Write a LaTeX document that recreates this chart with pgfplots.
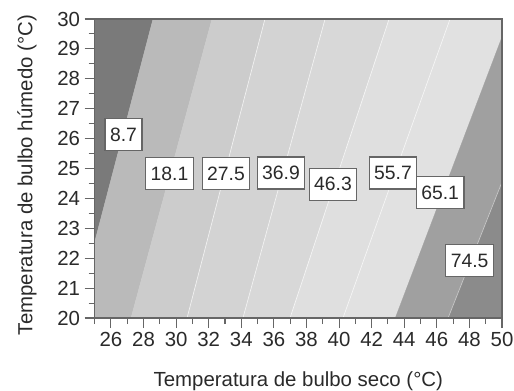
\documentclass[border=0pt]{standalone}
\usepackage{fontspec}
\setmainfont{Liberation Sans}
\usepackage{pgfplots}
\pgfplotsset{compat=1.18}
\definecolor{c0}{HTML}{7A7A7A}
\definecolor{c1}{HTML}{BABABA}
\definecolor{c2}{HTML}{CCCCCC}
\definecolor{c3}{HTML}{D3D3D3}
\definecolor{c4}{HTML}{D8D8D8}
\definecolor{c5}{HTML}{DFDFDF}
\definecolor{c6}{HTML}{E1E1E1}
\definecolor{c7}{HTML}{A0A0A0}
\definecolor{c8}{HTML}{8B8B8B}
\definecolor{frame}{HTML}{666666}
\definecolor{txt}{HTML}{2A2A2A}
\begin{document}
\begin{tikzpicture}
\begin{axis}[
  at={(0,0)}, anchor=south west,
  scale only axis, width=305.5pt, height=224.25pt,
  xmin=25, xmax=50, ymin=20, ymax=30,
  xtick={26,28,...,50}, minor xtick={25,27,...,49},
  ytick={20,21,...,30}, minor ytick={20.5,21.5,...,29.5},
  tick align=outside, xtick pos=left, ytick pos=left,
  major tick length=7.5pt, minor tick length=4.5pt,
  every tick/.style={frame, line width=0.8pt},
  axis line style={frame, line width=0.8pt},
  axis on top,
  /pgf/number format/assume math mode=true,
  font=\fontsize{15.3}{18}\selectfont,
  tick label style={font=\fontsize{15.3}{18}\selectfont, text=txt},
  label style={font=\fontsize{15.3}{18}\selectfont, text=txt},
  xlabel={Temperatura de bulbo seco (°C)},
  ylabel={Temperatura de bulbo húmedo (°C)},
  xlabel style={at={(axis description cs:0.5,-0.2107)}, anchor=center},
  ylabel style={at={(axis description cs:-0.1662,0.478)}, anchor=center},
]
\addplot[fill=c0, draw=c0, line width=0.2pt] coordinates {(25,22.54) (28.58,30) (25,30)} -- cycle;
\addplot[fill=c1, draw=c1, line width=0.2pt] coordinates {(25,20) (27.23,20) (32.20,30) (28.58,30) (25,22.54)} -- cycle;
\addplot[fill=c2, draw=c2, line width=0.2pt] coordinates {(27.23,20) (30.67,20) (35.45,30) (32.20,30)} -- cycle;
\addplot[fill=c3, draw=c3, line width=0.2pt] coordinates {(30.67,20) (34.10,20) (39.14,30) (35.45,30)} -- cycle;
\addplot[fill=c4, draw=c4, line width=0.2pt] coordinates {(34.10,20) (36.99,20) (43.07,30) (39.14,30)} -- cycle;
\addplot[fill=c5, draw=c5, line width=0.2pt] coordinates {(36.99,20) (40.24,20) (46.81,30) (43.07,30)} -- cycle;
\addplot[fill=c6, draw=c6, line width=0.2pt] coordinates {(40.24,20) (43.45,20) (50,29.4) (50,30) (46.81,30)} -- cycle;
\addplot[fill=c7, draw=c7, line width=0.2pt] coordinates {(43.45,20) (46.69,20) (50,24.55) (50,29.4)} -- cycle;
\addplot[fill=c8, draw=c8, line width=0.2pt] coordinates {(46.69,20) (50,20) (50,24.55)} -- cycle;
% faint contour lines
\addplot[white, opacity=0.7, line width=0.5pt] coordinates {(30.67,20) (35.45,30)};
\addplot[white, opacity=0.7, line width=0.5pt] coordinates {(34.10,20) (39.14,30)};
\addplot[white, opacity=0.7, line width=0.5pt] coordinates {(36.99,20) (43.07,30)};
\addplot[white, opacity=0.7, line width=0.5pt] coordinates {(40.24,20) (46.81,30)};
\addplot[white, opacity=0.5, line width=0.5pt] coordinates {(46.69,20) (50,24.55)};
% contour labels
\tikzset{lbl/.style={draw=frame, fill=white, line width=0.8pt, text=txt,
  font=\fontsize{14.5}{17}\selectfont, minimum height=24pt, inner xsep=3.8pt, inner ysep=0pt}}
\node[lbl] at (axis cs:26.77,26.14) {8.7};
\node[lbl] at (axis cs:29.59,24.83) {18.1};
\node[lbl] at (axis cs:33.06,24.83) {27.5};
\node[lbl] at (axis cs:36.44,24.85) {36.9};
\node[lbl] at (axis cs:39.63,24.48) {46.3};
\node[lbl] at (axis cs:43.31,24.85) {55.7};
\node[lbl] at (axis cs:46.20,24.20) {65.1};
\node[lbl] at (axis cs:48.01,21.91) {74.5};
\end{axis}
\pgfresetboundingbox
\path[use as bounding box] (-71.0pt,-54pt) rectangle (314.5pt,238.5pt);
\end{tikzpicture}
\end{document}
